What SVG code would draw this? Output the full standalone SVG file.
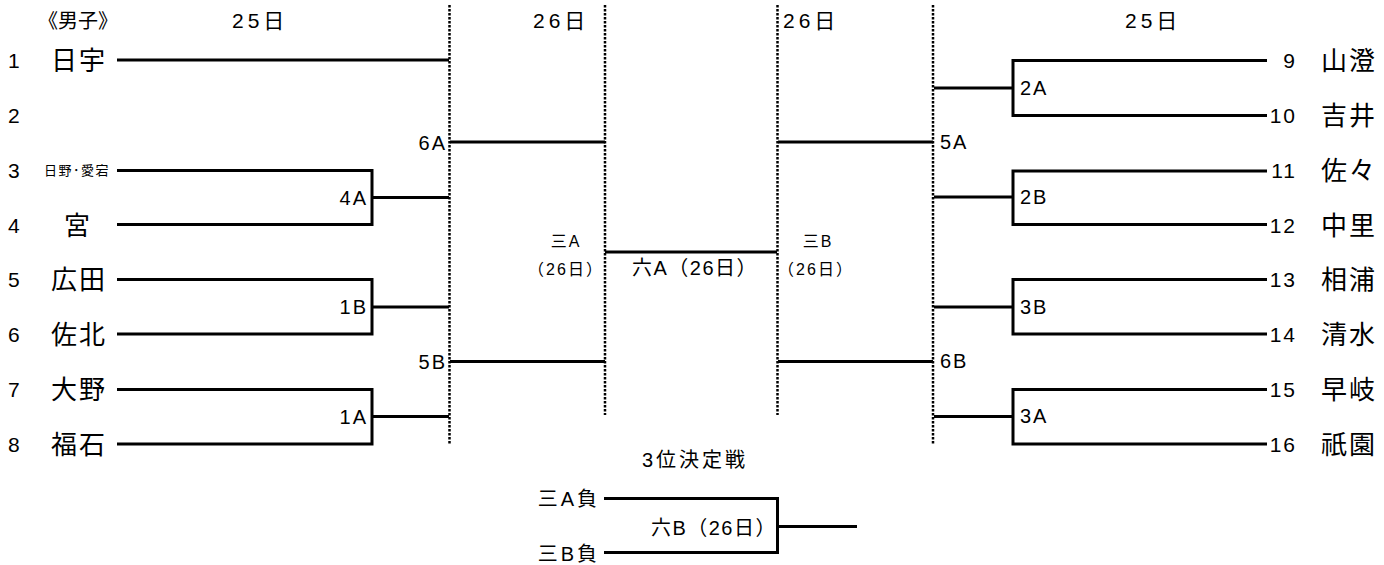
<svg xmlns="http://www.w3.org/2000/svg" width="1384" height="565" viewBox="0 0 1384 565">
<style>
text{font-family:"Liberation Sans","Noto Sans CJK JP",sans-serif;fill:#000}
.ln{stroke:#000;stroke-width:3;fill:none;stroke-linecap:butt}
.dot{stroke:#000;stroke-width:2.5;stroke-dasharray:2.5 1.5;fill:none}
.num{font-size:21px;letter-spacing:2px}
.nm{font-size:26px;letter-spacing:2px}
.hd{font-size:21px;letter-spacing:4px}
.lb{font-size:20px;letter-spacing:2px}
.sm{font-size:16px;letter-spacing:2px}
.md{font-size:20px;letter-spacing:1.5px}
.ng{font-size:20px;letter-spacing:3px}
.ti{font-size:20px;letter-spacing:3px}
</style>
<rect width="1384" height="565" fill="#fff"/>
<g id="headers">
<text x="38" y="28" font-size="20">《男子》</text>
<text x="232" y="28" class="hd">25日</text>
<text x="533" y="28" class="hd">26日</text>
<text x="783" y="28" class="hd">26日</text>
<text x="1125" y="28" class="hd">25日</text>
</g>
<g id="connectors">
<line class="dot" x1="449.5" y1="5" x2="449.5" y2="445"/>
<line class="dot" x1="605" y1="5" x2="605" y2="415"/>
<line class="dot" x1="777.5" y1="5" x2="777.5" y2="415"/>
<line class="dot" x1="933" y1="5" x2="933" y2="445"/>
<line class="ln" x1="117" y1="60" x2="449" y2="60"/>
<path class="ln" d="M117 170.5H372V224.5H117"/>
<line class="ln" x1="372" y1="197.5" x2="449" y2="197.5"/>
<path class="ln" d="M117 279.5H372V334H117"/>
<line class="ln" x1="372" y1="307" x2="449" y2="307"/>
<path class="ln" d="M117 389.5H372V444H117"/>
<line class="ln" x1="372" y1="416.5" x2="449" y2="416.5"/>
<line class="ln" x1="450" y1="142" x2="605" y2="142"/>
<line class="ln" x1="450" y1="361.5" x2="605" y2="361.5"/>
<line class="ln" x1="605" y1="252" x2="777" y2="252"/>
<line class="ln" x1="778" y1="142" x2="933" y2="142"/>
<line class="ln" x1="778" y1="361.5" x2="933" y2="361.5"/>
<path class="ln" d="M1267 60.5H1013V115.5H1267"/>
<line class="ln" x1="934" y1="88" x2="1013" y2="88"/>
<path class="ln" d="M1267 171H1013V224.5H1267"/>
<line class="ln" x1="934" y1="197" x2="1013" y2="197"/>
<path class="ln" d="M1267 279.5H1013V334H1267"/>
<line class="ln" x1="934" y1="307" x2="1013" y2="307"/>
<path class="ln" d="M1267 389.5H1013V444H1267"/>
<line class="ln" x1="934" y1="416.5" x2="1013" y2="416.5"/>
<path class="ln" d="M604 498.5H777.5V552.5H604"/>
<line class="ln" x1="777.5" y1="526.5" x2="857" y2="526.5"/>
</g>
<g id="left-teams">
<text class="num" x="8" y="68">1</text><text class="nm" x="79" y="70" text-anchor="middle">日宇</text>
<text class="num" x="8" y="123">2</text>
<text class="num" x="8" y="178">3</text><text x="77" y="175" font-size="13" letter-spacing="1.5" text-anchor="middle">日野･愛宕</text>
<text class="num" x="8" y="233">4</text><text class="nm" x="78" y="235" text-anchor="middle">宮</text>
<text class="num" x="8" y="287">5</text><text class="nm" x="79" y="289" text-anchor="middle">広田</text>
<text class="num" x="8" y="342">6</text><text class="nm" x="79" y="344" text-anchor="middle">佐北</text>
<text class="num" x="8" y="397">7</text><text class="nm" x="79" y="399" text-anchor="middle">大野</text>
<text class="num" x="8" y="452">8</text><text class="nm" x="79" y="454" text-anchor="middle">福石</text>
</g>
<g id="right-teams">
<text class="num" x="1297" y="68" text-anchor="end">9</text><text class="nm" x="1321" y="70">山澄</text>
<text class="num" x="1297" y="123" text-anchor="end">10</text><text class="nm" x="1321" y="125">吉井</text>
<text class="num" x="1297" y="178" text-anchor="end">11</text><text class="nm" x="1321" y="180">佐々</text>
<text class="num" x="1297" y="233" text-anchor="end">12</text><text class="nm" x="1321" y="235">中里</text>
<text class="num" x="1297" y="287" text-anchor="end">13</text><text class="nm" x="1321" y="289">相浦</text>
<text class="num" x="1297" y="342" text-anchor="end">14</text><text class="nm" x="1321" y="344">清水</text>
<text class="num" x="1297" y="397" text-anchor="end">15</text><text class="nm" x="1321" y="399">早岐</text>
<text class="num" x="1297" y="452" text-anchor="end">16</text><text class="nm" x="1321" y="454">祇園</text>
</g>
<g id="match-labels">
<text class="lb" x="368" y="205" text-anchor="end">4A</text>
<text class="lb" x="368" y="314" text-anchor="end">1B</text>
<text class="lb" x="368" y="424" text-anchor="end">1A</text>
<text class="lb" x="447" y="150" text-anchor="end">6A</text>
<text class="lb" x="447" y="369" text-anchor="end">5B</text>
<text class="lb" x="1020" y="95">2A</text>
<text class="lb" x="1020" y="204">2B</text>
<text class="lb" x="1020" y="314">3B</text>
<text class="lb" x="1020" y="423">3A</text>
<text class="lb" x="940" y="149">5A</text>
<text class="lb" x="940" y="368">6B</text>
</g>
<g id="semis">
<text class="sm" x="566" y="247" text-anchor="middle">三A</text>
<text class="sm" x="566" y="275" text-anchor="middle">（26日）</text>
<text class="sm" x="818" y="247" text-anchor="middle">三B</text>
<text class="sm" x="816" y="275" text-anchor="middle">（26日）</text>
<text class="md" x="695" y="275" text-anchor="middle">六A（26日）</text>
</g>
<g id="third-place">
<text class="ti" x="695" y="467" text-anchor="middle">3位決定戦</text>
<text class="ng" x="600" y="506" text-anchor="end">三A負</text>
<text class="ng" x="600" y="561" text-anchor="end">三B負</text>
<text class="md" x="777" y="535" text-anchor="end">六B（26日）</text>
</g>
</svg>
